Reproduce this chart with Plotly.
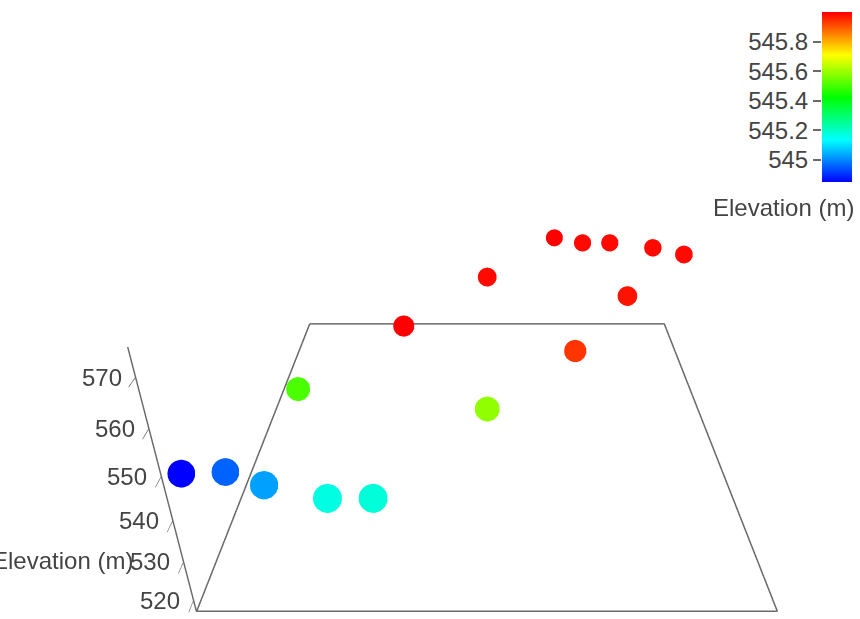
import plotly.graph_objects as go

# ---- data ----
easting_m = [0, 10, 20, 35, 45, 20, 70, 95, 45, 70, 95, 105, 115, 130, 140, 115]
northing_m = [8.7, 9.1, 4.5, 0.0, 0.0, 41.6, 32.5, 59.9, 74.0, 107.1, 140.0,
              135.4, 135.4, 131.0, 125.2, 93.4]
elevation_m = [544.85, 544.96, 545.03, 545.17, 545.18, 545.51, 545.59, 545.94,
               546.0, 545.99, 546.0, 545.99, 545.99, 545.99, 545.99, 545.98]
z_range = [517, 575.5]
z_ticks = [520, 530, 540, 550, 560, 570]
color_range = [544.85, 546.0]
colorbar_ticks = [545, 545.2, 545.4, 545.6, 545.8]

scale = [[0.0, "rgb(0,0,255)"], [0.25, "rgb(0,255,255)"], [0.5, "rgb(0,255,0)"],
         [0.75, "rgb(255,255,0)"], [1.0, "rgb(255,0,0)"]]

W, H = 974, 663
FONT = "Liberation Sans, Arial, sans-serif"
LINE = "#6a6a6a"
ASPECT = dict(x=1, y=1.013, z=0.53)
EPS = 0.05  # keeps the floor outline just inside the clipping box

x_ext = [min(easting_m), max(easting_m)]
y_ext = [min(northing_m), max(northing_m)]
x_rng = [x_ext[0] - EPS, x_ext[1] + EPS]
y_rng = [y_ext[0] - EPS, y_ext[1] + EPS]

# camera distance / tilt in box half-widths, used to give dots a perspective size
EYE_DIST, COS_T = 3.3699, 0.8678
sizes = []
for n in northing_m:
    yn = ASPECT["y"] * (2 * (n - y_ext[0]) / (y_ext[1] - y_ext[0]) - 1)
    sizes.append(84.0 / (EYE_DIST + COS_T * yn))

fig = go.Figure()
# floor outline of the box
fig.add_trace(go.Scatter3d(
    x=[x_ext[0], x_ext[0], x_ext[1], x_ext[1], x_ext[0]],
    y=[y_ext[1], y_ext[0], y_ext[0], y_ext[1], y_ext[1]],
    z=[z_range[0] + 0.01] * 5, mode="lines",
    line=dict(color=LINE, width=3), hoverinfo="skip", showlegend=False,
))
fig.add_trace(go.Scatter3d(
    x=easting_m, y=northing_m, z=elevation_m, mode="markers",
    marker=dict(size=sizes, color=elevation_m, colorscale=scale,
                cmin=color_range[0], cmax=color_range[1], showscale=False,
                opacity=1, line=dict(width=0)),
    showlegend=False,
))
# colour scale strip drawn as a smooth heatmap on a small cartesian axis
fig.add_trace(go.Heatmap(
    x=[0, 1], y=color_range,
    z=[[color_range[0], color_range[0]], [color_range[1], color_range[1]]],
    colorscale=scale, zmin=color_range[0], zmax=color_range[1],
    zsmooth="best", showscale=False, hoverinfo="skip",
    xaxis="x", yaxis="y",
))

hidden = dict(title=dict(text=""), showticklabels=False, ticks="", showgrid=False,
              zeroline=False, showline=False, showbackground=False,
              showspikes=False)

# z tick labels, placed horizontally beside the vertical axis edge
z_labels = [dict(x=x_rng[0], y=y_rng[0], z=t, text=str(t), showarrow=False,
                 xanchor="right", yanchor="middle", xshift=-12,
                 font=dict(size=24, color="#444")) for t in z_ticks]

fig.update_layout(
    width=W, height=H, autosize=False,
    margin=dict(l=0, r=0, t=0, b=0),
    paper_bgcolor="white", plot_bgcolor="white",
    font=dict(family=FONT, size=24, color="#444"),
    scene=dict(
        domain=dict(x=[0, 1], y=[0, 1]),
        aspectmode="manual", aspectratio=ASPECT,
        camera=dict(eye=dict(x=0.0, y=-1.4622, z=0.8374),
                    center=dict(x=0, y=0, z=0), up=dict(x=0, y=0, z=1)),
        xaxis=dict(hidden, range=x_rng),
        yaxis=dict(hidden, range=y_rng),
        zaxis=dict(title=dict(text=""),
                   range=z_range, tickvals=z_ticks, ticks="outside",
                   ticklen=6, tickwidth=2, tickcolor=LINE,
                   showticklabels=False, showline=True,
                   linecolor=LINE, linewidth=3, showgrid=False, zeroline=False,
                   showbackground=False, showspikes=False),
        annotations=z_labels,
    ),
    xaxis=dict(domain=[822 / W, 852 / W], range=[0, 1], showticklabels=False,
               showgrid=False, zeroline=False, ticks="", fixedrange=True),
    yaxis=dict(domain=[1 - 182 / H, 1 - 12 / H], range=color_range, side="left",
               tickvals=colorbar_ticks, ticks="outside", ticklen=8, tickwidth=2,
               tickcolor=LINE, showgrid=False, zeroline=False,
               tickfont=dict(size=24), fixedrange=True),
    annotations=[
        dict(text="Elevation (m)", xref="paper", yref="paper",
             x=856 / W, y=1 - 207 / H, xanchor="right", yanchor="middle",
             showarrow=False, font=dict(size=24)),
        dict(text="Elevation (m)", xref="paper", yref="paper",
             x=135 / W, y=1 - 560 / H, xanchor="right", yanchor="middle",
             showarrow=False, font=dict(size=24)),
    ],
)

fig.write_html(
    "out.html",
    config={"displayModeBar": False},
    post_script="document.body.style.margin='0px';"
                "document.body.style.overflow='hidden';",
)
